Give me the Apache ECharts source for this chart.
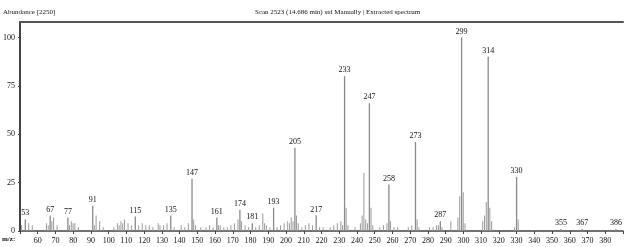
<!DOCTYPE html>
<html>
<head>
<meta charset="utf-8">
<script src="https://cdn.jsdelivr.net/npm/echarts@6/dist/echarts.min.js"></script>
<style>
html,body{margin:0;padding:0;background:#fff;}
#c{width:626px;height:247px;}
</style>
</head>
<body>
<div id="c"></div>
<script>
// Labeled peaks (m/z and relative abundance)
var labeledMz = [53, 67, 77, 91, 115, 135, 147, 161, 174, 181, 193, 205, 217, 233, 247, 258, 273, 287, 299, 314, 330, 355, 367, 386];
var labeledAbund = [6, 8, 7, 13, 7.5, 8, 27, 7, 11, 4, 12, 43, 8, 80, 66, 24, 46, 5, 100, 90, 28, 1, 1, 1];

// Unlabeled minor peaks
var minorMz = [51, 55, 57, 65, 66, 68, 69, 71, 78, 79, 80, 81, 83, 92, 93, 95, 97, 103, 105, 106, 107, 108, 109, 111, 113,
  117, 119, 121, 123, 125, 128, 129, 131, 133, 137, 141, 143, 145, 148, 149, 152, 155, 157, 159, 162, 163, 165, 167, 169,
  171, 173, 175, 177, 179, 183, 185, 187, 188, 189, 191, 195, 197, 199, 201, 202, 203, 204, 206, 207, 209, 211, 213, 215,
  219, 221, 225, 227, 229, 231, 232, 234, 235, 239, 242, 243, 244, 245, 246, 248, 249, 253, 255, 257, 259, 261, 263, 269,
  271, 274, 275, 281, 283, 285, 286, 288, 293, 297, 298, 300, 301, 311, 312, 313, 315, 316, 329, 331];
var minorAbund = [3, 4, 3, 4, 3, 5, 7, 3, 3, 5, 4, 4, 2, 3, 8, 5, 2, 2, 4, 3, 5, 4, 6, 4, 3,
  3, 4, 3, 3, 2, 4, 3, 3, 4, 2, 3, 2, 4, 6, 3, 2, 2, 3, 2, 3, 3, 2, 2, 3,
  4, 6, 5, 3, 2, 2, 3, 9, 4, 3, 2, 2, 3, 4, 5, 4, 7, 5, 8, 4, 2, 3, 4, 3,
  2, 2, 2, 3, 4, 5, 3, 12, 3, 2, 4, 8, 30, 6, 4, 12, 3, 2, 3, 4, 5, 2, 2, 2,
  3, 6, 2, 2, 2, 3, 3, 2, 5, 7, 18, 20, 4, 5, 8, 15, 12, 5, 2, 6];

var yTicks = [0, 25, 50, 75, 100];
var xTickLabels = [60, 70, 80, 90, 100, 110, 120, 130, 140, 150, 160, 170, 180, 190, 200, 210, 220, 230, 240, 250, 260, 270, 280, 290, 300, 310, 320, 330, 340, 350, 360, 370, 380];

var titleLeft = 'Abundance [2250]';
var titleCenter = 'Scan 2523 (14.686 min) std Manually | Extracted spectrum';
var xName = 'm/z:';

var font = '"Liberation Serif", "DejaVu Serif", serif';

var data = [];
for (var i = 0; i < minorMz.length; i++) data.push([minorMz[i], minorAbund[i]]);
var labeledData = [];
for (var j = 0; j < labeledMz.length; j++) {
  labeledData.push({
    value: [labeledMz[j], labeledAbund[j]],
    label: { show: true, formatter: String(labeledMz[j]) }
  });
}

var chart = echarts.init(document.getElementById('c'), null, { renderer: 'canvas' });
chart.setOption({
  animation: false,
  backgroundColor: '#fff',
  grid: { left: 20, right: 2, top: 22, bottom: 16 },
  xAxis: [{
    type: 'value', min: 50, max: 390, interval: 10,
    axisLine: { show: true, lineStyle: { color: '#444', width: 1.5 } },
    axisTick: { show: true, length: 3, lineStyle: { color: '#444' } },
    splitLine: { show: false },
    axisLabel: {
      color: '#111', fontFamily: font, fontSize: 8, margin: 6,
      formatter: function (v) { return xTickLabels.indexOf(v) >= 0 ? String(v) : ''; }
    }
  }, {
    type: 'value', min: 50, max: 390, position: 'top',
    axisLine: { show: true, onZero: false, lineStyle: { color: '#555', width: 2 } },
    axisTick: { show: false }, axisLabel: { show: false }, splitLine: { show: false }
  }],
  yAxis: {
    type: 'value', min: 0, max: 108, interval: 25,
    axisLine: { show: true, lineStyle: { color: '#444', width: 2 } },
    axisTick: { show: true, length: 2, lineStyle: { color: '#444' } },
    splitLine: { show: false },
    axisLabel: {
      color: '#111', fontFamily: font, fontSize: 8, margin: 5, showMaxLabel: false,
      formatter: function (v) { return yTicks.indexOf(v) >= 0 ? String(v) : ''; }
    }
  },
  graphic: [
    { type: 'text', left: 3, top: 9, style: { text: titleLeft, font: '7px ' + font, fill: '#111' } },
    { type: 'text', left: 255, top: 9, style: { text: titleCenter, font: '7px ' + font, fill: '#111' } },
    { type: 'text', left: 2, top: 236, style: { text: xName, font: 'bold 7px ' + font, fill: '#111' } }
  ],
  series: [{
    type: 'bar', barWidth: 1, barGap: '-100%',
    itemStyle: { color: '#9a9a9a' },
    data: data, silent: true
  }, {
    type: 'bar', barWidth: 1.3, barGap: '-100%',
    itemStyle: { color: '#8a8a8a' },
    label: { position: 'top', distance: 2, color: '#111', fontFamily: font, fontSize: 8 },
    data: labeledData, silent: true
  }]
});
</script>
</body>
</html>
